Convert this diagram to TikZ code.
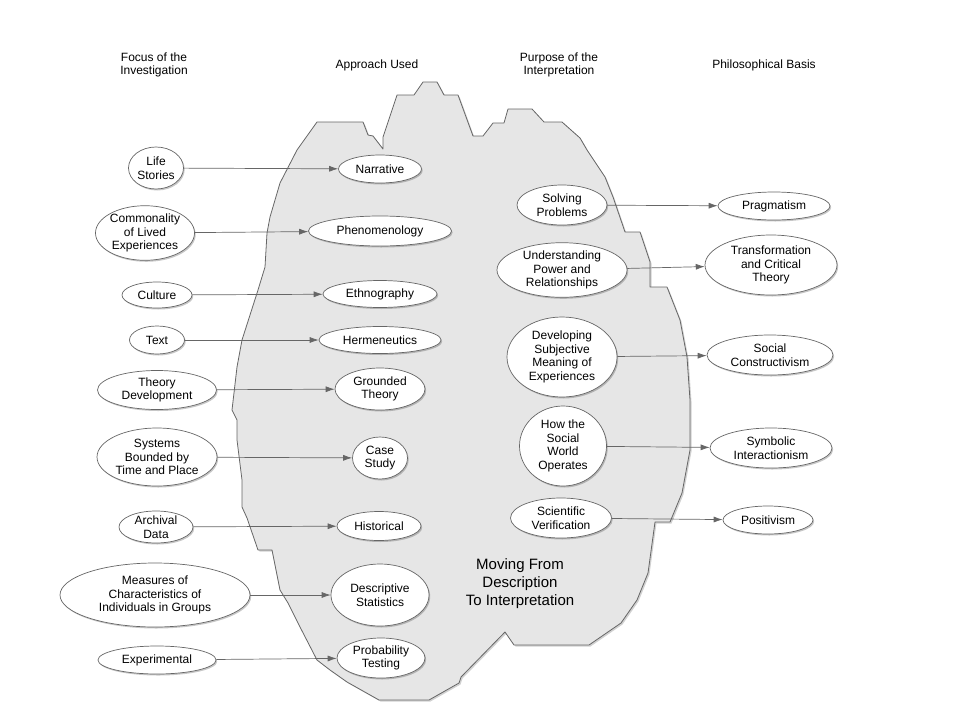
\documentclass[tikz,border=0pt]{standalone}
\usepackage{fontspec}
\setmainfont{Liberation Sans}
\usetikzlibrary{shapes.geometric, shadows, arrows.meta}
\definecolor{linegray}{HTML}{666666}
\definecolor{blobgray}{HTML}{E6E6E6}
\tikzstyle{oval} = [ellipse, draw=linegray, line width=0.7pt, fill=white, inner sep=0pt, align=center,
    font=\fontsize{12}{13.7}\selectfont,
    drop shadow={shadow xshift=1.2pt, shadow yshift=-1.5pt, fill=black, opacity=0.22}]
\tikzstyle{head} = [align=center, font=\fontsize{12}{13.7}\selectfont]
\tikzstyle{link} = [draw=linegray, line width=0.7pt, -{Latex[length=9pt, width=6pt]}]
\tikzstyle{blob} = [draw=linegray, fill=blobgray, line width=0.8pt, line join=round,
    drop shadow={shadow xshift=1.5pt, shadow yshift=-1.5pt, fill=black, opacity=0.18}]

\begin{document}
\begin{tikzpicture}[x=1pt, y=-1pt] % one unit per pixel, y going down
    \useasboundingbox (0,0) rectangle (960,720);

    % the grey area in the middle
    \draw[blob] (317,122) -- (363,122) -- (368,135) -- (373,136) -- (383,149)
        -- (383,137) -- (397,95) -- (414,95) -- (423,82) -- (437,82) -- (444,95)
        -- (458,95) -- (473,136) -- (483,136) -- (493,123) -- (504,123)
        -- (508,109) -- (532,109) -- (544,122) -- (562,122) -- (580,138)
        -- (587,150) -- (605,177) -- (613,197) -- (625,232) -- (640,232)
        -- (650,262) -- (650,287) -- (667,287) -- (680,320) -- (687,357)
        -- (690,400) -- (690,450) -- (682,493) -- (670,522) -- (655,522)
        -- (648,573) -- (637,600) -- (621,623) -- (589,645) -- (514,645)
        -- (505,632) -- (461,677) -- (459,683) -- (429,700) -- (379,700)
        -- (347,682) -- (330,670) -- (317,660) -- (300,627) -- (288,603)
        -- (280,590) -- (272,550) -- (258,550) -- (247,518) -- (242,507)
        -- (242,480) -- (237,440) -- (237,420) -- (232,410) -- (237,367)
        -- (242,340) -- (258,290) -- (265,267) -- (267,233) -- (270,217)
        -- (280,183) -- (297,150) -- cycle;

    % column titles
    \node[head] (hfocus) at (154,65) {Focus of the\\Investigation};
    \node[head] (happroach) at (377,65) {Approach Used};
    \node[head] (hpurpose) at (559,65) {Purpose of the\\Interpretation};
    \node[head] (hbasis) at (764,65) {Philosophical Basis};
    \node[align=center, font=\fontsize{15}{18}\selectfont] (moving) at (520,584)
        {Moving From\\Description\\To Interpretation};

    % focus of the investigation
    \node[oval, minimum width=55, minimum height=42] (life) at (156,168) {Life\\Stories};
    \node[oval, minimum width=92, minimum height=53] (common) at (145,233) {Commonality\\of Lived\\Experiences};
    \node[oval, minimum width=70, minimum height=26] (culture) at (157,295) {Culture};
    \node[oval, minimum width=55, minimum height=28] (text) at (157,340) {Text};
    \node[oval, minimum width=119, minimum height=39] (theory) at (157,390) {Theory\\Development};
    \node[oval, minimum width=120, minimum height=58] (systems) at (157,457) {Systems\\Bounded by\\Time and Place};
    \node[oval, minimum width=74, minimum height=32] (archival) at (156,527) {Archival\\Data};
    \node[oval, minimum width=190, minimum height=64] (measures) at (155,595) {Measures of\\Characteristics of\\Individuals in Groups};
    \node[oval, minimum width=118, minimum height=28] (experimental) at (157,660) {Experimental};

    % approach used
    \node[oval, minimum width=83, minimum height=28] (narrative) at (380,169) {Narrative};
    \node[oval, minimum width=143, minimum height=30] (phenom) at (380,231) {Phenomenology};
    \node[oval, minimum width=114, minimum height=27] (ethno) at (380,294) {Ethnography};
    \node[oval, minimum width=122, minimum height=27] (herm) at (380,340) {Hermeneutics};
    \node[oval, minimum width=90, minimum height=42] (grounded) at (380,389) {Grounded\\Theory};
    \node[oval, minimum width=55, minimum height=42] (case) at (380,458) {Case\\Study};
    \node[oval, minimum width=84, minimum height=29] (historical) at (379,526) {Historical};
    \node[oval, minimum width=98, minimum height=62] (descriptive) at (380,595) {Descriptive\\Statistics};
    \node[oval, minimum width=88, minimum height=40] (probability) at (381,658) {Probability\\Testing};

    % purpose of the interpretation
    \node[oval, minimum width=90, minimum height=40] (solving) at (562,205) {Solving\\Problems};
    \node[oval, minimum width=130, minimum height=54] (power) at (562,270) {Understanding\\Power and\\Relationships};
    \node[oval, minimum width=110, minimum height=80] (developing) at (562,357) {Developing\\Subjective\\Meaning of\\Experiences};
    \node[oval, minimum width=87, minimum height=80] (howsocial) at (563,446) {How the\\Social\\World\\Operates};
    \node[oval, minimum width=101, minimum height=40] (scientific) at (561,518) {Scientific\\Verification};

    % philosophical basis
    \node[oval, minimum width=112, minimum height=28] (pragmatism) at (774,206) {Pragmatism};
    \node[oval, minimum width=132, minimum height=60] (transform) at (771,265) {Transformation\\and Critical\\Theory};
    \node[oval, minimum width=126, minimum height=40] (constructivism) at (770,355) {Social\\Constructivism};
    \node[oval, minimum width=122, minimum height=40] (symbolic) at (771,448) {Symbolic\\Interactionism};
    \node[oval, minimum width=90, minimum height=28] (positivism) at (768,520) {Positivism};

    % connectors
    \draw[link] (life) -- (narrative);
    \draw[link] (common) -- (phenom);
    \draw[link] (culture) -- (ethno);
    \draw[link] (text) -- (herm);
    \draw[link] (theory) -- (grounded);
    \draw[link] (systems) -- (case);
    \draw[link] (archival) -- (historical);
    \draw[link] (measures) -- (descriptive);
    \draw[link] (experimental) -- (probability);
    \draw[link] (solving) -- (pragmatism);
    \draw[link] (power) -- (transform);
    \draw[link] (developing) -- (constructivism);
    \draw[link] (howsocial) -- (symbolic);
    \draw[link] (scientific) -- (positivism);
\end{tikzpicture}
\end{document}
